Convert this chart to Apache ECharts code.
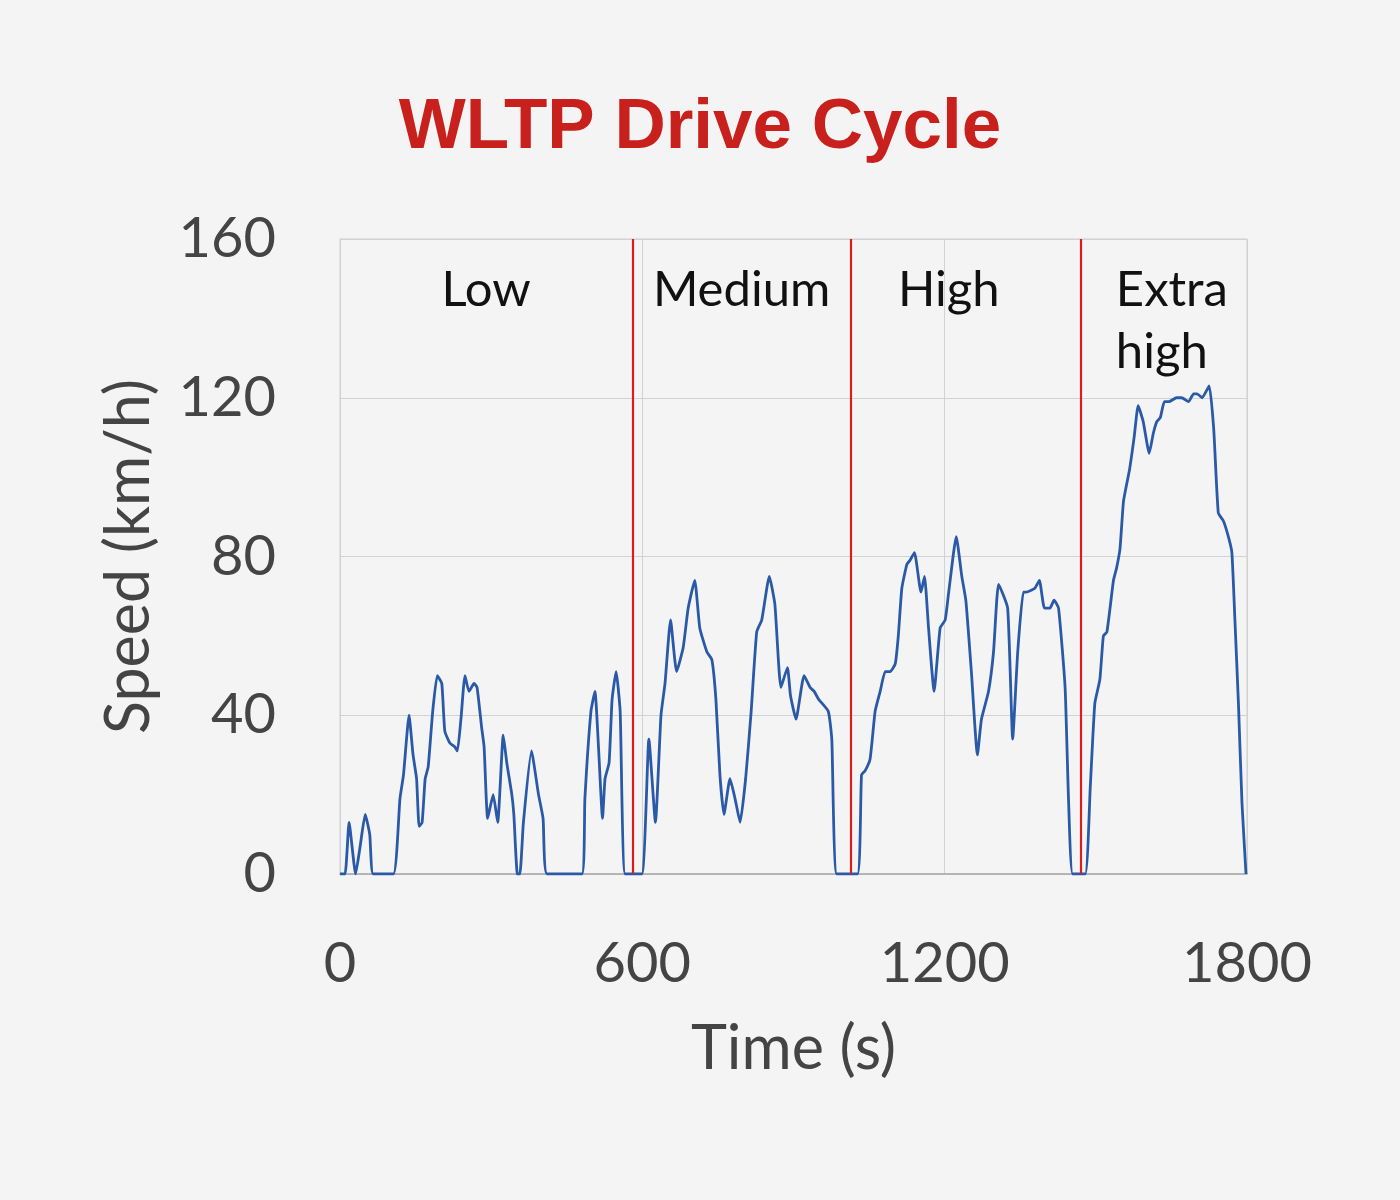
<!DOCTYPE html>
<html>
<head>
<meta charset="utf-8">
<script src="https://cdn.jsdelivr.net/npm/echarts@6/dist/echarts.min.js"></script>
<style>
  html, body { margin: 0; padding: 0; background: #f4f4f4; }
  #main { width: 1400px; height: 1200px; }
</style>
</head>
<body>
<div id="main"></div>
<script>
// time (s) and speed (km/h)
const times = [
  0, 10, 18, 31, 40, 50, 59, 66, 106, 119, 126, 137, 145, 152, 157, 163, 169, 175, 184, 193,
  202, 208, 218, 228, 233, 240, 248, 256, 266, 272, 281, 286, 293, 304, 313, 324, 331, 341, 345, 352,
  357, 364, 380, 394, 403, 411, 480, 486, 498, 506, 513, 521, 526, 534, 540, 548, 556, 566, 599, 613,
  626, 637, 645, 656, 668, 681, 691, 704, 714, 728, 738, 746, 754, 762, 774, 784, 794, 805, 816, 827,
  837, 852, 863, 875, 888, 894, 905, 921, 933, 941, 950, 969, 976, 986, 1027, 1035, 1042, 1052, 1062, 1072,
  1082, 1092, 1102, 1108, 1115, 1125, 1131, 1140, 1153, 1160, 1168, 1179, 1191, 1201, 1208, 1223, 1234, 1242, 1253, 1265,
  1273, 1287, 1297, 1307, 1325, 1335, 1345, 1356, 1362, 1379, 1388, 1398, 1409, 1417, 1426, 1439, 1446, 1454, 1479, 1489,
  1498, 1508, 1515, 1522, 1535, 1541, 1548, 1555, 1567, 1576, 1584, 1594, 1606, 1614, 1621, 1628, 1636, 1645, 1660, 1670,
  1684, 1694, 1701, 1711, 1725, 1734, 1743, 1753, 1763, 1770, 1776, 1783, 1790, 1798
];
const speeds = [
  0, 0, 13, 0, 7, 15, 10, 0, 0, 19, 25, 40, 30, 24, 12, 13, 24, 27, 41, 50,
  48, 36, 33, 32, 31, 39, 50, 46, 48, 47, 37, 32, 14, 20, 13, 35, 28, 20, 15, 0,
  0, 13, 31, 20, 14, 0, 0, 19, 41, 46, 32, 14, 24, 28, 44, 51, 41, 0, 0, 34,
  13, 40, 48, 64, 51, 57, 67, 74, 62, 56, 54, 44, 25, 15, 24, 19, 13, 24, 41, 61,
  64, 75, 68, 47, 52, 45, 39, 50, 47, 46, 44, 41, 34, 0, 0, 25, 26, 29, 41, 46,
  51, 51, 53, 60, 72, 78, 79, 81, 71, 75, 62, 46, 62, 64, 71, 85, 75, 69, 51, 30,
  39, 46, 56, 73, 67, 34, 56, 71, 71, 72, 74, 67, 67, 69, 67, 47, 18, 0, 0, 22,
  43, 49, 60, 61, 74, 77, 82, 94, 102, 110, 118, 114, 106, 111, 114, 115, 119, 119, 120, 120,
  119, 121, 121, 120, 123, 112, 91, 89, 85, 81, 64, 43, 18, 0
];

// phase boundaries and names
const phaseEdges = [0, 580, 1014, 1470, 1800];
const phaseNames = ['Low', 'Medium', 'High', 'Extra\nhigh'];

const xTicks = [0, 1800, 600];   // min, max, interval
const yTicks = [0, 160, 40];

const data = times.map((t, i) => [t, speeds[i]]);

const labelFont = 'Lato, "Open Sans", sans-serif';

const phaseAreas = phaseNames.map((name, i) => {
  const lab = { show: true, formatter: name };
  if (i === 2) lab.offset = [-17, 0];
  if (i === 3) { lab.align = 'left'; lab.offset = [-48, 0]; }
  return [{ xAxis: phaseEdges[i], label: lab }, { xAxis: phaseEdges[i + 1] }];
});

const chart = echarts.init(document.getElementById('main'));
chart.setOption({
  backgroundColor: '#f4f4f4',
  animation: false,
  title: {
    text: 'WLTP Drive Cycle',
    left: 'center',
    top: 88,
    textStyle: {
      color: '#c8201c',
      fontSize: 71,
      fontWeight: 'bold',
      fontFamily: '"Liberation Sans", Roboto, sans-serif'
    }
  },
  grid: {
    left: 340, right: 153, top: 239, bottom: 326,
    show: true, borderColor: '#cfcfcf', borderWidth: 1
  },
  xAxis: {
    type: 'value',
    min: xTicks[0], max: xTicks[1], interval: xTicks[2],
    name: 'Time (s)',
    nameLocation: 'middle',
    nameGap: 145,
    nameTextStyle: { fontSize: 61, color: '#444', fontFamily: labelFont },
    axisLine: { show: true, lineStyle: { color: '#a8a8a8', width: 1.5 } },
    axisTick: { show: false },
    axisLabel: { fontSize: 56, color: '#444', margin: 62, fontFamily: labelFont, formatter: v => String(v) },
    splitLine: { show: true, lineStyle: { color: '#d2d2d2', width: 1 } }
  },
  yAxis: {
    type: 'value',
    min: yTicks[0], max: yTicks[1], interval: yTicks[2],
    name: 'Speed (km/h)',
    nameLocation: 'middle',
    nameRotate: 90,
    nameGap: 180,
    nameTextStyle: { fontSize: 61, color: '#444', fontFamily: labelFont },
    axisLine: { show: false },
    axisTick: { show: false },
    axisLabel: { fontSize: 56, color: '#444', margin: 64, fontFamily: labelFont },
    splitLine: { show: true, lineStyle: { color: '#d2d2d2', width: 1 } }
  },
  series: [{
    type: 'line',
    data: data,
    showSymbol: false,
    smooth: 0.15,
    lineStyle: { color: '#2a59a8', width: 2.8 },
    z: 3,
    markLine: {
      silent: true,
      symbol: ['none', 'none'],
      label: { show: false },
      lineStyle: { color: '#d81e1e', width: 2.2, type: 'solid' },
      data: phaseEdges.slice(1, 4).map(v => ({ xAxis: v }))
    },
    markArea: {
      silent: true,
      itemStyle: { color: 'rgba(0,0,0,0)' },
      label: {
        position: 'insideTop',
        distance: 20,
        color: '#111',
        fontSize: 49,
        lineHeight: 62,
        fontFamily: labelFont
      },
      data: phaseAreas
    }
  }]
});
</script>
</body>
</html>
